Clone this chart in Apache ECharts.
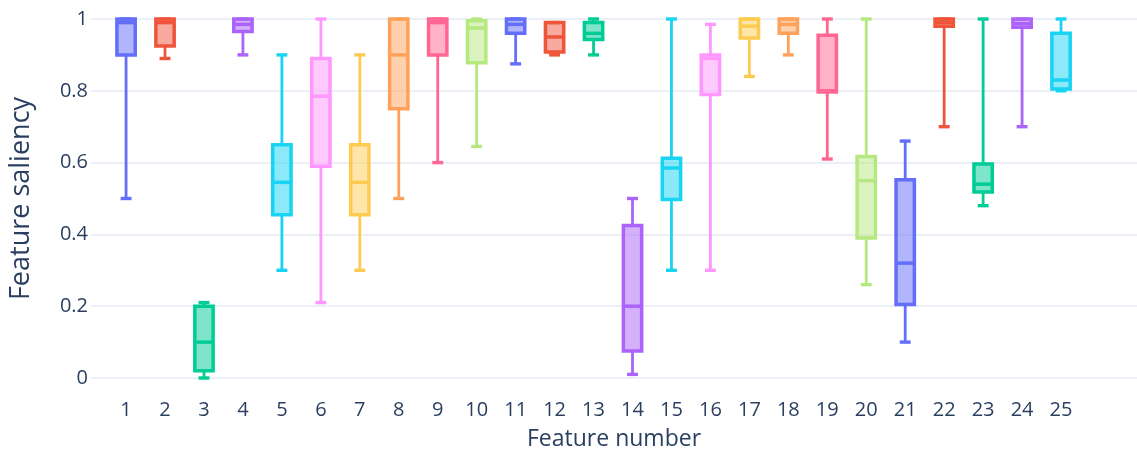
<!DOCTYPE html>
<html>
<head>
<meta charset="utf-8">
<script src="https://cdn.jsdelivr.net/npm/echarts@6/dist/echarts.min.js"></script>
<style>
  html, body { margin: 0; padding: 0; background: #ffffff; }
  #chart { width: 1137px; height: 462px; }
</style>
</head>
<body>
<div id="chart"></div>
<script>
// ---- data ----
const features = [1,2,3,4,5,6,7,8,9,10,11,12,13,14,15,16,17,18,19,20,21,22,23,24,25];
const mins    = [0.50,0.89,0.00,0.90,0.30,0.21,0.30,0.50,0.60,0.645,0.875,0.90,0.90,0.01,0.30,0.30,0.84,0.90,0.61,0.26,0.10,0.70,0.48,0.70,0.80];
const q1s     = [0.90,0.925,0.02,0.965,0.455,0.59,0.455,0.75,0.90,0.878,0.96,0.908,0.943,0.075,0.497,0.79,0.947,0.96,0.797,0.39,0.205,0.98,0.518,0.977,0.805];
const medians = [0.99,0.99,0.10,0.985,0.545,0.785,0.545,0.90,0.99,0.975,0.985,0.95,0.96,0.20,0.585,0.89,0.98,0.985,0.80,0.55,0.32,0.99,0.54,0.987,0.83];
const q3s     = [1.00,1.00,0.20,1.00,0.65,0.89,0.65,1.00,1.00,0.995,1.00,0.99,0.99,0.425,0.612,0.90,1.00,1.00,0.955,0.617,0.552,1.00,0.596,1.00,0.96];
const maxs    = [1.00,1.00,0.21,1.00,0.90,1.00,0.90,1.00,1.00,1.00,1.00,0.99,1.00,0.50,1.00,0.985,1.00,1.00,1.00,1.00,0.66,1.00,1.00,1.00,1.00];
const yTicks  = [0, 0.2, 0.4, 0.6, 0.8, 1];

// ---- styles ----
const palette = ['#636EFA','#EF553B','#00CC96','#AB63FA','#19D3F3','#FF97FF','#FECB52','#FFA15A','#FF6692','#B6E880'];
const textColor = '#2a3f5f';
const fontFamily = '"Open Sans", Verdana, Arial, sans-serif';

function hexToRgba(hex, a) {
  const n = parseInt(hex.slice(1), 16);
  return 'rgba(' + ((n >> 16) & 255) + ',' + ((n >> 8) & 255) + ',' + (n & 255) + ',' + a + ')';
}

const seriesData = features.map((f, i) => [f, mins[i], q1s[i], medians[i], q3s[i], maxs[i]]);

function renderItem(params, api) {
  const x = api.value(0);
  const band = api.size([1, 0])[0];
  const bw = band * 0.47;
  const cw = band * 0.28;
  const pMin = api.coord([x, api.value(1)]);
  const pQ1 = api.coord([x, api.value(2)]);
  const pMed = api.coord([x, api.value(3)]);
  const pQ3 = api.coord([x, api.value(4)]);
  const pMax = api.coord([x, api.value(5)]);
  const cx = pMed[0];
  const color = palette[params.dataIndex % palette.length];
  const lw = 2.8;
  const lineStyle = { stroke: color, lineWidth: lw, fill: null };
  return {
    type: 'group',
    children: [
      { type: 'line', shape: { x1: cx, y1: pMax[1], x2: cx, y2: pQ3[1] }, style: lineStyle },
      { type: 'line', shape: { x1: cx, y1: pQ1[1], x2: cx, y2: pMin[1] }, style: lineStyle },
      { type: 'line', shape: { x1: cx - cw / 2, y1: pMax[1], x2: cx + cw / 2, y2: pMax[1] }, style: { stroke: color, lineWidth: lw + 0.6 } },
      { type: 'line', shape: { x1: cx - cw / 2, y1: pMin[1], x2: cx + cw / 2, y2: pMin[1] }, style: { stroke: color, lineWidth: lw + 0.6 } },
      { type: 'rect', shape: { x: cx - bw / 2, y: pQ3[1], width: bw, height: pQ1[1] - pQ3[1] },
        style: { fill: hexToRgba(color, 0.5), stroke: color, lineWidth: lw + 0.7 } },
      { type: 'line', shape: { x1: cx - bw / 2, y1: pMed[1], x2: cx + bw / 2, y2: pMed[1] }, style: { stroke: color, lineWidth: lw + 0.7 } }
    ]
  };
}

const chart = echarts.init(document.getElementById('chart'));
chart.setOption({
  backgroundColor: '#ffffff',
  animation: false,
  grid: { left: 89, right: 0, top: 19, bottom: 84, containLabel: false },
  xAxis: {
    type: 'value',
    min: 0.1,
    max: 26.95,
    name: 'Feature number',
    nameLocation: 'middle',
    nameGap: 50,
    nameTextStyle: { color: textColor, fontSize: 23, fontFamily: fontFamily },
    axisLine: { show: false },
    axisTick: { show: false },
    splitLine: { show: false },
    axisLabel: {
      customValues: features,
      color: textColor,
      fontSize: 20,
      fontFamily: fontFamily,
      margin: 22,
      formatter: v => String(Math.round(v))
    }
  },
  yAxis: {
    type: 'value',
    min: 0,
    max: 1,
    interval: 0.2,
    name: 'Feature saliency',
    nameLocation: 'middle',
    nameGap: 56,
    nameTextStyle: { color: textColor, fontSize: 27, fontFamily: fontFamily },
    axisLine: { show: false },
    axisTick: { show: false },
    splitLine: { show: true, lineStyle: { color: '#EBF0F8', width: 2 } },
    axisLabel: {
      color: textColor,
      fontSize: 20,
      fontFamily: fontFamily,
      margin: 3,
      formatter: v => {
        const t = yTicks.find(k => Math.abs(k - v) < 1e-9);
        return t === undefined ? '' : String(t);
      }
    }
  },
  series: [{
    type: 'custom',
    renderItem: renderItem,
    clip: false,
    encode: { x: 0, y: [1, 2, 3, 4, 5] },
    data: seriesData
  }]
});
</script>
</body>
</html>
